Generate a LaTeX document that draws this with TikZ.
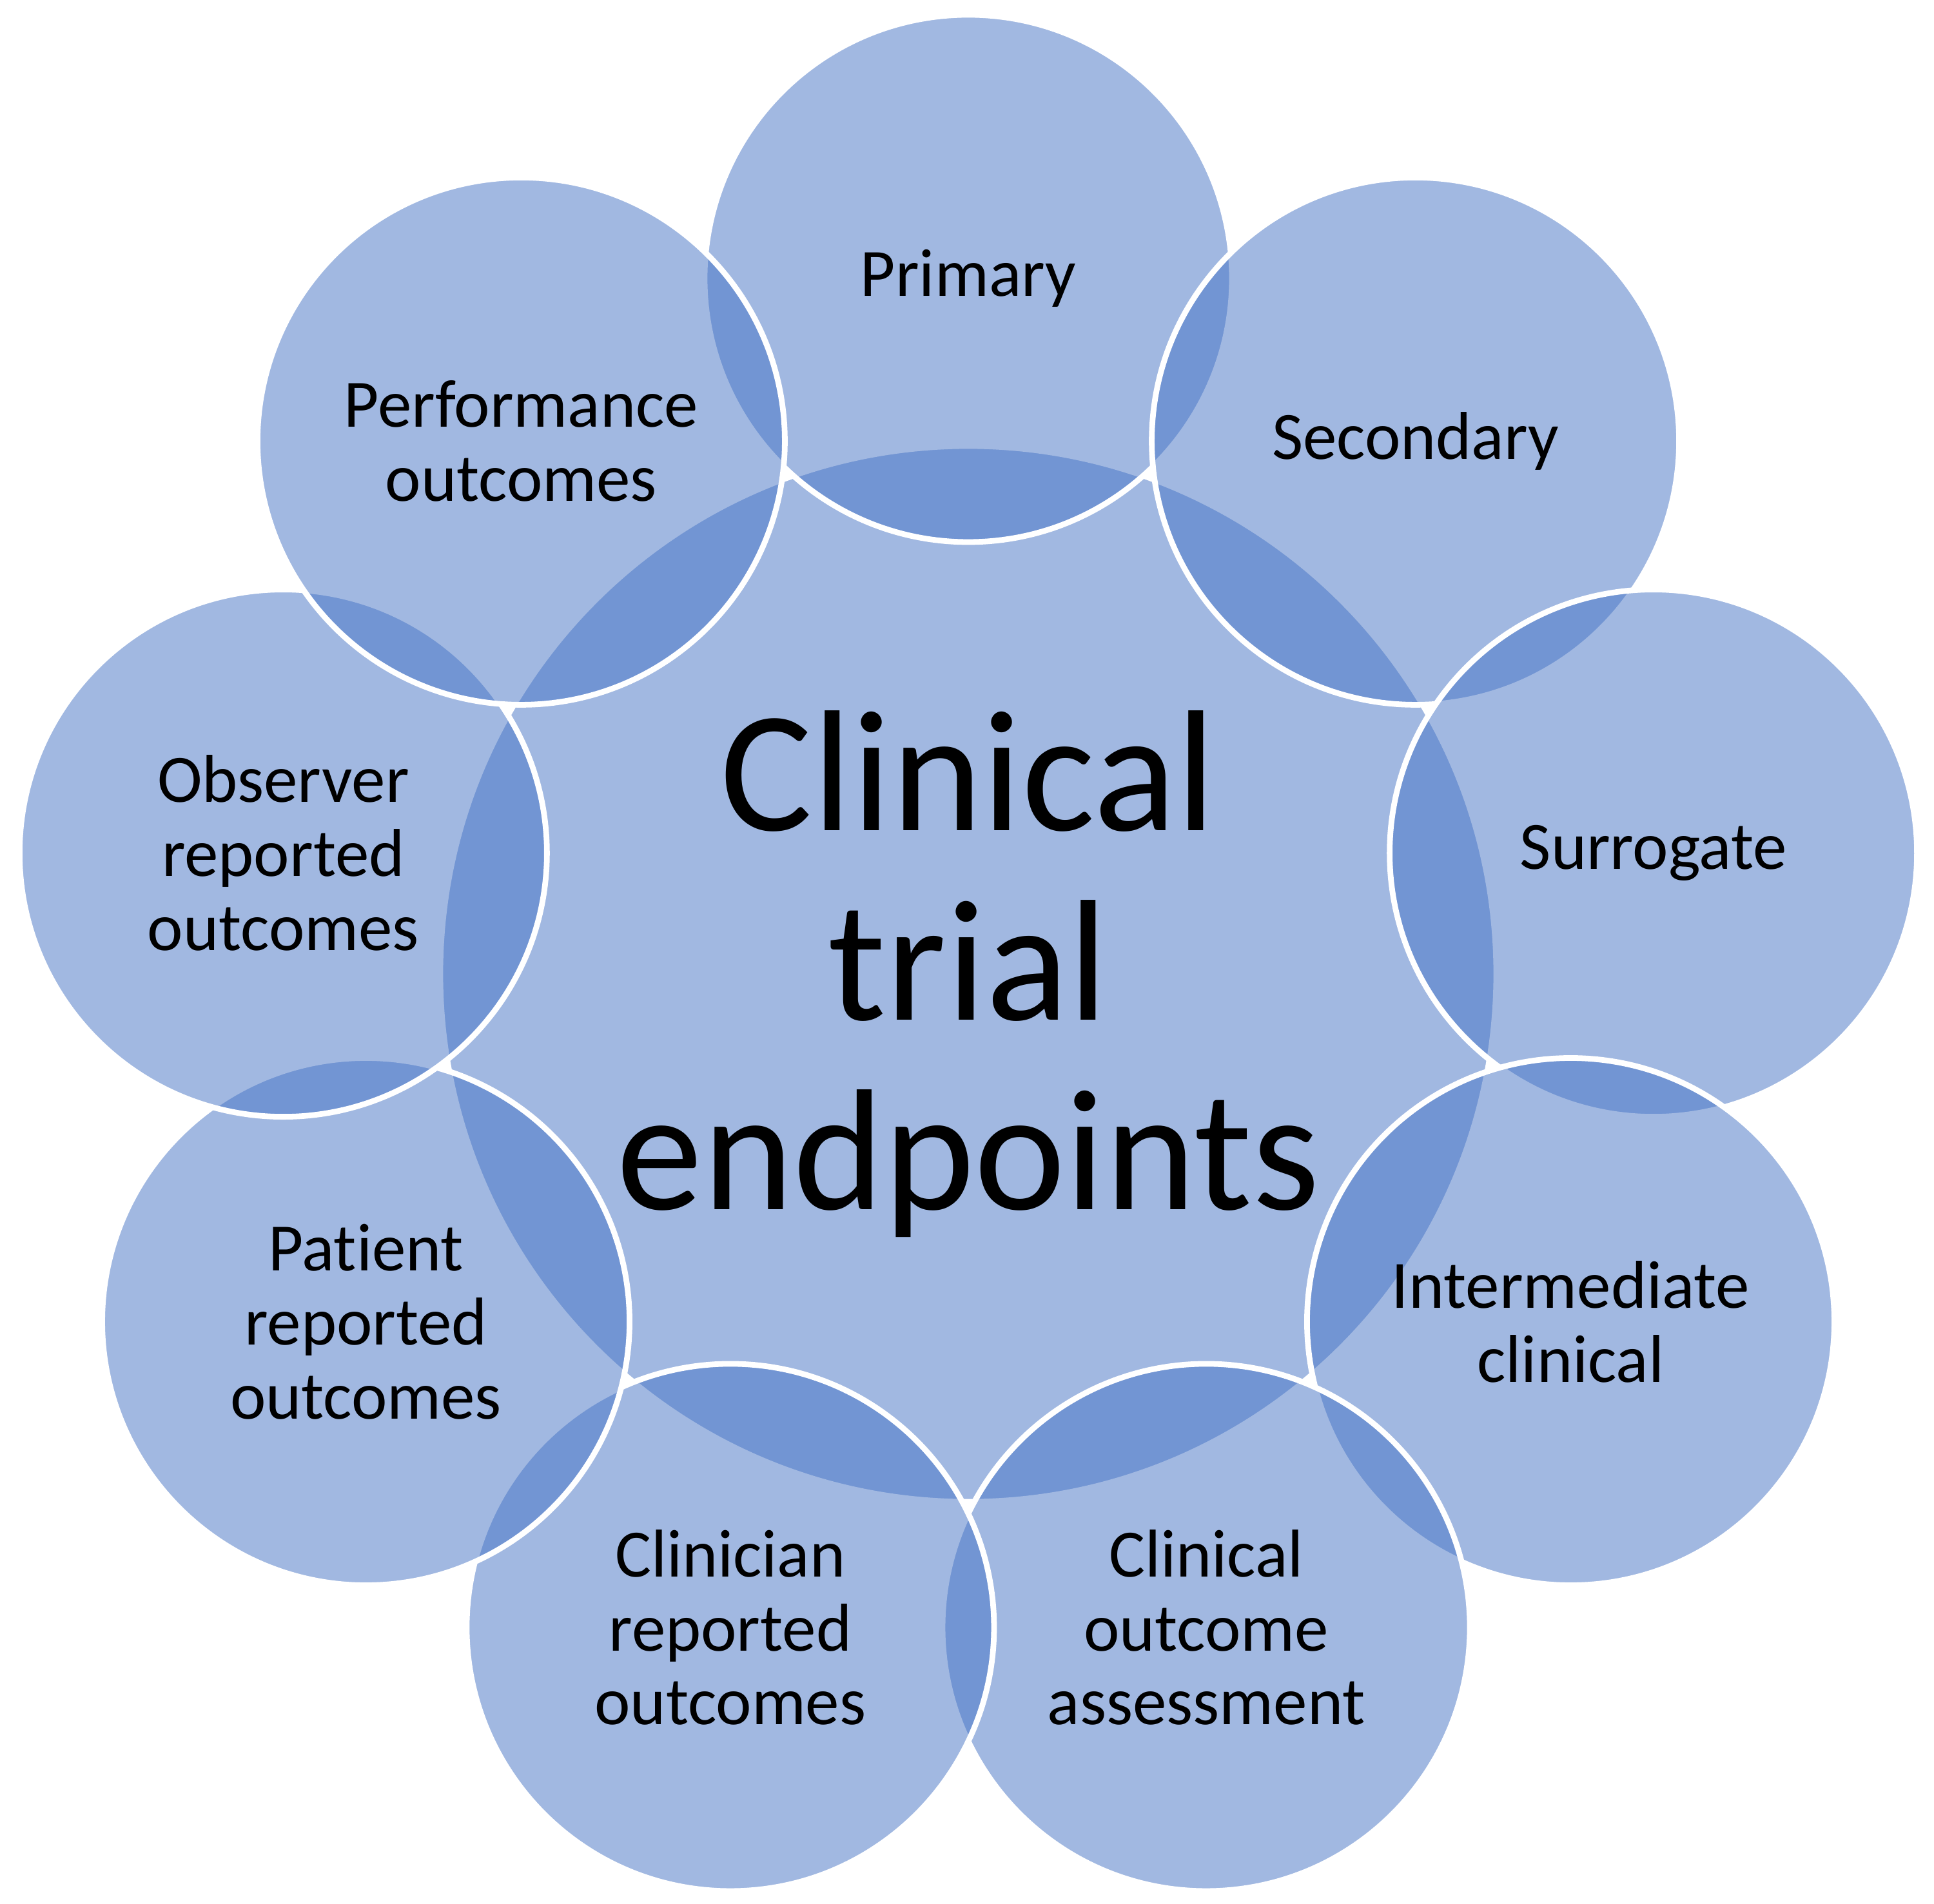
\documentclass[tikz,border=0pt]{standalone}
\usepackage{fontspec}
\setmainfont{Carlito}[Ligatures=NoCommon]
\usepackage{tikz}
\definecolor{vennblue}{RGB}{68,114,196}

\begin{document}
\begin{tikzpicture}[
    petal/.style={circle, draw=white, line width=2.5pt, fill=vennblue, fill opacity=0.5, text opacity=1,
        minimum size=8.18cm, inner sep=0pt, align=center, font=\fontsize{29.9}{32.7}\selectfont},
    hub/.style={petal, minimum size=16.38cm, font=\fontsize{76.2}{83.6}\selectfont}]
    \useasboundingbox (-15.02,-14.43) rectangle (14.98,15.11);
    % centre first, then clockwise from the top
    \node [hub] at (0,0) (endpoints) {Clinical\\trial\\endpoints};
    \node [petal] at (90:10.79) (primary) {Primary};
    \node [petal] at (50:10.79) (secondary) {Secondary};
    \node [petal] at (10:10.79) (surrogate) {Surrogate};
    \node [petal] at (-30:10.79) (intermediate) {Intermediate\\clinical};
    \node [petal] at (-70:10.79) (coa) {Clinical\\outcome\\assessment};
    \node [petal] at (-110:10.79) (clinro) {Clinician\\reported\\outcomes};
    \node [petal] at (-150:10.79) (patient) {Patient\\reported\\outcomes};
    \node [petal] at (170:10.79) (observer) {Observer\\reported\\outcomes};
    \node [petal] at (130:10.79) (performance) {Performance\\outcomes};
\end{tikzpicture}
\end{document}
